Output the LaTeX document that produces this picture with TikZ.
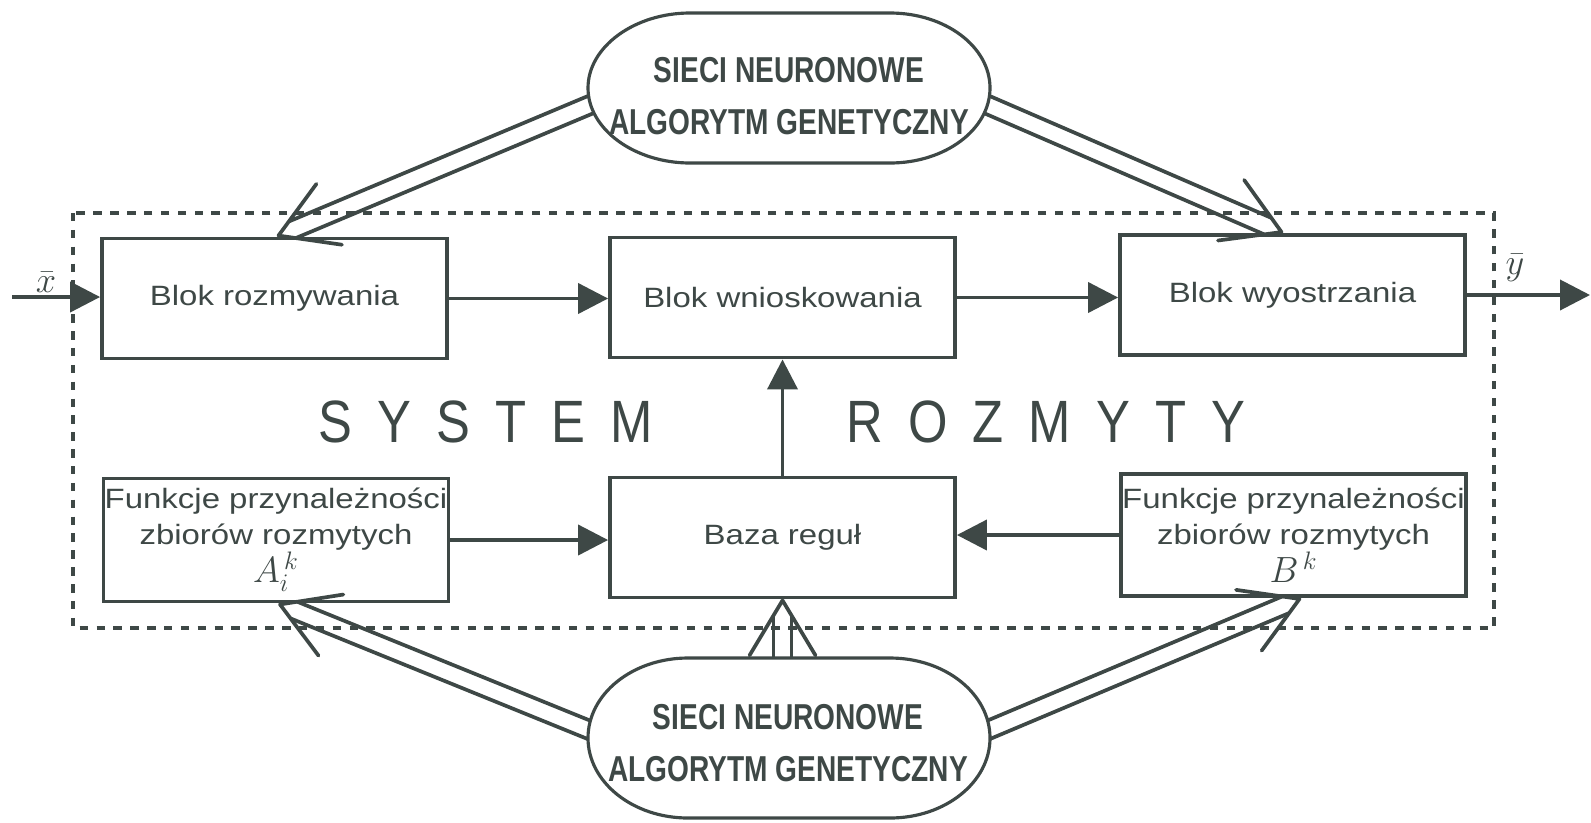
\documentclass[tikz,border=0pt]{standalone}
\usepackage{fontspec}
\setmainfont{Liberation Sans}
\newfontfamily\boxfont[FakeStretch=1.18]{Liberation Sans}
\newfontfamily\ovalfont[FakeStretch=0.78]{Liberation Sans}
\newfontfamily\sysfont[FakeStretch=0.85,LetterSpace=42]{Liberation Sans}
\usetikzlibrary{arrows.meta,calc}
\definecolor{ink}{RGB}{62,72,70}
\pgfdeclarelayer{bg}
\pgfsetlayers{bg,main}

\tikzset{
  blk/.style={draw=ink, line width=2.2pt, minimum width=6.9cm, minimum height=2.4cm,
    inner sep=0pt, text=ink, font=\boxfont\fontsize{15.9}{20.4}\selectfont, align=center},
  ovalarea/.style={inner sep=0pt},
  ovalline/.style={draw=ink, line width=1.8pt, fill=white},
  ovaltxt/.style={text=ink, font=\ovalfont\bfseries\fontsize{20.5}{29.5}\selectfont,
    align=center, inner sep=0pt},
  sarrow/.style={draw=ink, line width=2.2pt, -{Triangle[length=0.6cm,width=0.6cm]}},
  dline/.style={draw=ink, line width=2.1pt, line cap=round, line join=round},
  frame/.style={draw=ink, line width=2pt, dash pattern=on 4.8pt off 4.8pt},
  mathlbl/.style={text=ink, inner sep=0pt, font=\fontsize{21}{24}\selectfont},
  syslbl/.style={text=ink, inner sep=0pt, anchor=base west, font=\sysfont\fontsize{34}{40}\selectfont},
}

% double (hollow) arrow from coordinate #1 to coordinate #2
\newcommand\dblarrow[2]{%
  \path coordinate (dab) at ($(#2)!1.1cm!(#1)$)
        coordinate (dae) at ($(#2)!0.31cm!(#1)$);
  \draw[dline] ($(#1)!0.18cm!90:(#2)$) -- ($(dae)!0.18cm!90:(#2)$);
  \draw[dline] ($(#1)!0.18cm!-90:(#2)$) -- ($(dae)!0.18cm!-90:(#2)$);
  \draw[dline] ($(dab)!0.66cm!90:(#2)$) -- (#2) -- ($(dab)!0.66cm!-90:(#2)$);
}

\begin{document}
\begin{tikzpicture}[x=0.02cm, y=-0.02cm]
\begin{pgfonlayer}{bg}
\fill[white] (0,0) rectangle (1591,822);
\end{pgfonlayer}
\useasboundingbox (0,0) rectangle (1591,822);

% dashed frame
\draw[frame] (73,213) rectangle (1494,628);

% blocks
\node[blk] (rozm)  at (274.5,298.5) {Blok rozmywania};
\node[blk] (wnios) at (782.5,297.5) {Blok wnioskowania};
\node[blk] (wyost) at (1292.5,295)  {Blok wyostrzania};
\node[blk, minimum height=2.46cm] (funL) at (276,540)
  {Funkcje przynależności\\zbiorów rozmytych\\{\fontsize{20}{18}\selectfont$A_i^{\,k}$}};
\node[blk] (baza)  at (782.5,537.5) {Baza reguł};
\node[blk, minimum height=2.44cm] (funR) at (1293.5,535)
  {Funkcje przynależności\\zbiorów rozmytych\\{\fontsize{20}{18}\selectfont$B^{\,k}$}};

% ovals (outline with elliptical ends)
\draw[ovalline] (690,13) -- (890,13) .. controls (945.2,13) and (990,46.6) .. (990,88)
  .. controls (990,129.4) and (945.2,163) .. (890,163) -- (690,163)
  .. controls (634.8,163) and (588,129.4) .. (588,88)
  .. controls (588,46.6) and (634.8,13) .. (690,13) -- cycle;
\node[ovalarea, minimum width=8.04cm, minimum height=3cm] (ovT) at (789,88) {};
\node[ovaltxt] (ovTt) at (789,96) {SIECI NEURONOWE\\ALGORYTM GENETYCZNY};

\draw[ovalline] (688,658) -- (890,658) .. controls (945.2,658) and (990,693.8) .. (990,738)
  .. controls (990,782.2) and (945.2,818) .. (890,818) -- (688,818)
  .. controls (632.8,818) and (588,782.2) .. (588,738)
  .. controls (588,693.8) and (632.8,658) .. (688,658) -- cycle;
\node[ovalarea, minimum width=8.04cm, minimum height=3.2cm] (ovB) at (789,738) {};
\node[ovaltxt] (ovBt) at (788,743) {SIECI NEURONOWE\\ALGORYTM GENETYCZNY};

% system label
\node[syslbl] (sys) at (318,442) {SYSTEM};
\node[syslbl] (roz) at (846,442) {ROZMYTY};

% input / output
\coordinate (xin) at (12,297);
\coordinate (yout) at (1590,295);
\node[mathlbl] (xl) at (46,282) {$\bar{x}$};
\node[mathlbl] (yl) at (1515,268) {$\bar{y}$};
\draw[sarrow] (xin) -- (xin -| rozm.west);
\draw[sarrow] (wyost.east) -- (yout);

% single arrows
\draw[sarrow] (rozm.east) -- (rozm.east -| wnios.west);
\draw[sarrow] (wnios.east) -- (wnios.east -| wyost.west);
\draw[sarrow] (baza.north) -- (wnios.south);
\draw[sarrow] (funL.east) -- (funL.east -| baza.west);
\draw[sarrow] (funR.west) -- (funR.west -| baza.east);

% end points of the double arrows
\coordinate (tlS) at ($(ovT.west)+(14,12)$);
\coordinate (tlE) at ($(rozm.north)+(4,-1)$);
\coordinate (trS) at ($(ovT.east)+(-14,12)$);
\coordinate (trE) at ($(wyost.north)+(-11,-1)$);
\coordinate (blS) at ($(ovB.west)+(14,-3)$);
\coordinate (blE) at ($(funL.south)+(4,1)$);
\coordinate (brS) at ($(ovB.east)+(-14,-3)$);
\coordinate (brE) at ($(funR.south)+(6,1)$);
\coordinate (vS) at ($(baza.south |- ovB.north)+(0,10)$);
\coordinate (vE) at ($(baza.south)+(0,1)$);

% double arrows
\begin{pgfonlayer}{bg}
\dblarrow{tlS}{tlE}
\dblarrow{trS}{trE}
\dblarrow{blS}{blE}
\dblarrow{brS}{brE}
\dblarrow{vS}{vE}
\end{pgfonlayer}
\end{tikzpicture}
\end{document}
